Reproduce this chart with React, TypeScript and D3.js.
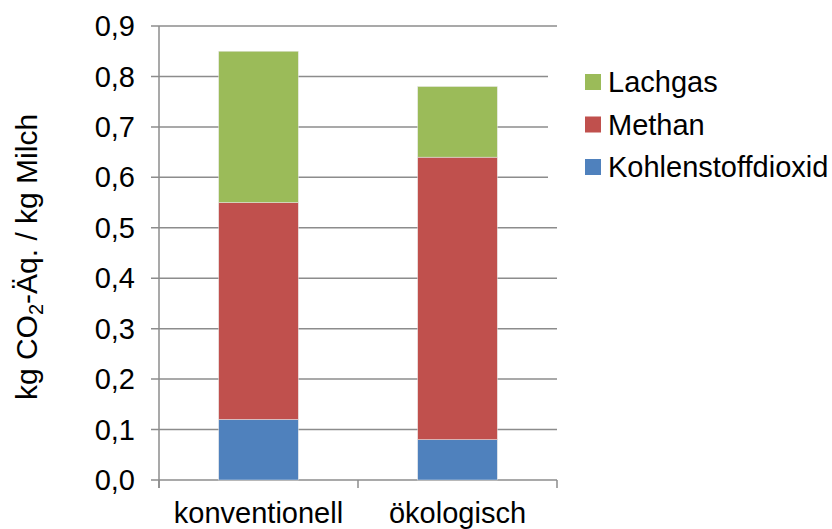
import React, { useEffect, useRef } from "react";
import * as d3 from "d3";

const categories = ["konventionell", "ökologisch"];
const seriesNames = ["Kohlenstoffdioxid", "Methan", "Lachgas"];
const co2Values = [0.12, 0.08];
const methanValues = [0.43, 0.56];
const lachgasValues = [0.3, 0.14];
const seriesColors = ["#4F81BD", "#C0504D", "#9BBB59"];
const yTicks = [0, 0.1, 0.2, 0.3, 0.4, 0.5, 0.6, 0.7, 0.8, 0.9];

const App = () => {
  const svgRef = useRef<SVGSVGElement>(null);

  useEffect(() => {
    const svg = d3.select(svgRef.current);
    svg.selectAll("*").remove();

    const width = 832;
    const height = 529;
    const margin = { top: 26, left: 159, right: 275, bottom: 49 };
    const font = "'Liberation Sans', Arial, sans-serif";
    const fontSize = 29;
    const gridColor = "#8c8c8c";

    const x = d3
      .scaleBand()
      .domain(categories)
      .range([margin.left, width - margin.right])
      .paddingInner(0.6)
      .paddingOuter(0.3);

    const y = d3
      .scaleLinear()
      .domain([0, 0.9])
      .range([height - margin.bottom, margin.top]);

    // build stacked table
    const table = categories.map((c, i) => ({
      cat: c,
      Kohlenstoffdioxid: co2Values[i],
      Methan: methanValues[i],
      Lachgas: lachgasValues[i],
    }));
    const stacked = d3.stack<any>().keys(seriesNames)(table);

    // gridlines + y tick marks
    svg
      .append("g")
      .selectAll("line")
      .data(yTicks)
      .enter()
      .append("line")
      .attr("x1", margin.left - 8)
      .attr("x2", x.range()[1])
      .attr("y1", (d) => y(d))
      .attr("y2", (d) => y(d))
      .attr("stroke", gridColor)
      .attr("stroke-width", 1.5);

    // y tick labels
    svg
      .append("g")
      .selectAll("text")
      .data(yTicks)
      .enter()
      .append("text")
      .attr("x", 135)
      .attr("y", (d) => y(d))
      .attr("dy", "0.35em")
      .attr("text-anchor", "end")
      .attr("font-family", font)
      .attr("font-size", fontSize)
      .attr("fill", "#000")
      .text((d) => d3.format(".1f")(d).replace(".", ","));

    // y axis line
    svg
      .append("line")
      .attr("x1", margin.left)
      .attr("x2", margin.left)
      .attr("y1", y(0.9))
      .attr("y2", y(0) + 8)
      .attr("stroke", gridColor)
      .attr("stroke-width", 1.5);

    // category tick marks at band borders
    const borders = [x.range()[0], x.range()[0] + x.step(), x.range()[1]];
    svg
      .append("g")
      .selectAll("line")
      .data(borders)
      .enter()
      .append("line")
      .attr("x1", (d) => d)
      .attr("x2", (d) => d)
      .attr("y1", y(0))
      .attr("y2", y(0) + 8)
      .attr("stroke", gridColor)
      .attr("stroke-width", 1.5);

    // bars
    svg
      .append("g")
      .selectAll("g")
      .data(stacked)
      .enter()
      .append("g")
      .attr("fill", (_, i) => seriesColors[i])
      .selectAll("rect")
      .data((d) => d)
      .enter()
      .append("rect")
      .attr("x", (d: any) => x(d.data.cat))
      .attr("width", x.bandwidth())
      .attr("y", (d) => y(d[1]))
      .attr("height", (d) => y(d[0]) - y(d[1]))
      .attr("stroke", "#e8e8e8")
      .attr("stroke-width", 0.5);

    // category labels
    svg
      .append("g")
      .selectAll("text")
      .data(categories)
      .enter()
      .append("text")
      .attr("x", (d) => x(d) + x.bandwidth() / 2)
      .attr("y", 523)
      .attr("text-anchor", "middle")
      .attr("font-family", font)
      .attr("font-size", fontSize)
      .attr("fill", "#000")
      .text((d) => d);

    // y axis title
    const title = svg
      .append("text")
      .attr("transform", `translate(37, 257) rotate(-90)`)
      .attr("text-anchor", "middle")
      .attr("font-family", font)
      .attr("font-size", 30)
      .attr("fill", "#000");
    title.append("tspan").text("kg CO");
    title.append("tspan").attr("font-size", 20).attr("dy", 6).text("2");
    title.append("tspan").attr("dy", -6).text("-Äq. / kg Milch");

    // legend
    const legend = svg.append("g");
    legend
      .append("rect")
      .attr("x", 548)
      .attr("y", 60)
      .attr("width", 284)
      .attr("height", 132)
      .attr("fill", "#fff");
    const legendOrder = [2, 1, 0];
    const items = legend
      .selectAll("g")
      .data(legendOrder)
      .enter()
      .append("g")
      .attr("transform", (_, i) => `translate(585, ${82 + i * 42.5})`);
    items
      .append("rect")
      .attr("x", 0)
      .attr("y", -8)
      .attr("width", 16)
      .attr("height", 16)
      .attr("fill", (d) => seriesColors[d]);
    items
      .append("text")
      .attr("x", 23)
      .attr("y", 0)
      .attr("dy", "0.35em")
      .attr("font-family", font)
      .attr("font-size", fontSize)
      .attr("fill", "#000")
      .text((d) => seriesNames[d]);
  }, []);

  return (
    <svg
      ref={svgRef}
      width={832}
      height={529}
      style={{ position: "absolute", left: 0, top: 0, background: "#fff" }}
    ></svg>
  );
};

export default App;
